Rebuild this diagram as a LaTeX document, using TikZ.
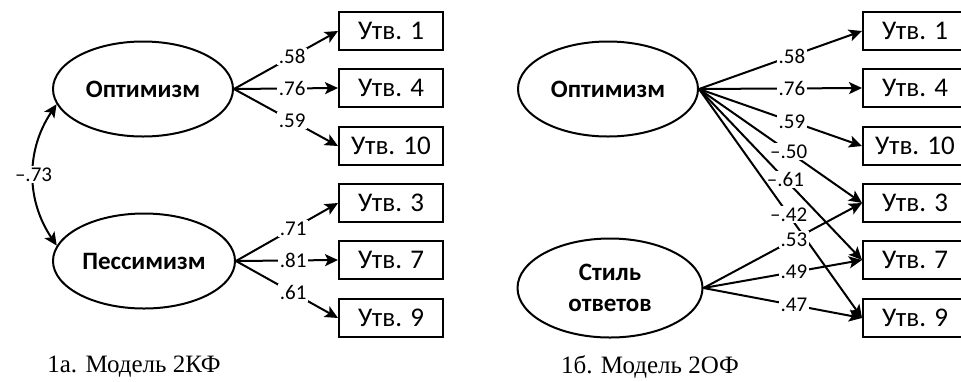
\documentclass[tikz,border=0pt]{standalone}
\usepackage{fontspec}
\setmainfont{Carlito}
\newfontfamily\capfont{Liberation Serif}
\usetikzlibrary{arrows.meta, shapes.geometric}

\begin{document}
\begin{tikzpicture}[x=0.5pt, y=-0.5pt, line width=1pt,
		factor/.style={ellipse, draw, minimum width=90pt, minimum height=47.5pt, inner sep=0pt,
			align=center, font=\bfseries\fontsize{12.5}{15.5}\selectfont},
		item/.style={rectangle, draw, minimum width=52pt, minimum height=19pt, inner sep=0pt,
			font=\fontsize{13.5}{15}\selectfont},
		load/.style={-{Stealth[length=6.5pt, width=6pt, inset=1.5pt]}},
		coef/.style={fill=white, inner sep=0.8pt, font=\fontsize{10.5}{12}\selectfont}]
		\useasboundingbox (0,0) rectangle (961,381);
		\clip (0,0) rectangle (961,381);
		
		% 1a
		\node[factor] (opt) at (143, 89) {Оптимизм};
		\node[factor, minimum width=91pt] (pes) at (144, 261) {Пессимизм};
		\node[item] (a1) at (391, 31) {Утв. 1};
		\node[item] (a4) at (391, 88) {Утв. 4};
		\node[item] (a10) at (391, 146) {Утв. 10};
		\node[item] (a3) at (391, 203) {Утв. 3};
		\node[item] (a7) at (391, 260) {Утв. 7};
		\node[item] (a9) at (391, 318) {Утв. 9};
		\node[font=\capfont\fontsize{12.5}{15}\selectfont] (capa) at (134, 367) {1а. Модель 2КФ};
		
		\draw[load] (opt.east) -- node[coef, pos=0.56] {.58} (a1.west);
		\draw[load] (opt.east) -- node[coef, pos=0.56] {.76} (a4.west);
		\draw[load] (opt.east) -- node[coef, pos=0.56] {.59} (a10.west);
		\draw[load] (pes.east) -- node[coef, pos=0.56] {.71} (a3.west);
		\draw[load] (pes.east) -- node[coef, pos=0.56] {.81} (a7.west);
		\draw[load] (pes.east) -- node[coef, pos=0.56] {.61} (a9.west);
		\draw[{Stealth[length=6.5pt, width=6pt, inset=1.5pt]}-{Stealth[length=6.5pt, width=6pt, inset=1.5pt]}]
		(opt.190) to[bend right=34] node[coef] {–.73} (pes.170);
		
		% 1b
		\node[factor] (opt2) at (608, 89) {Оптимизм};
		\node[factor, minimum width=92.5pt, minimum height=49.5pt] (sty) at (610, 288) {Стиль\\ответов};
		\node[item] (b1) at (915, 31) {Утв. 1};
		\node[item] (b4) at (915, 88) {Утв. 4};
		\node[item] (b10) at (915, 146) {Утв. 10};
		\node[item] (b3) at (915, 203) {Утв. 3};
		\node[item] (b7) at (915, 260) {Утв. 7};
		\node[item] (b9) at (915, 318) {Утв. 9};
		\node[font=\capfont\fontsize{12.5}{15}\selectfont] (capb) at (650, 367) {1б. Модель 2ОФ};
		
		\draw[load] (opt2.east) -- node[coef, pos=0.57] {.58} (b1.west);
		\draw[load] (opt2.east) -- node[coef, pos=0.57] {.76} (b4.west);
		\draw[load] (opt2.east) -- node[coef, pos=0.57] {.59} (b10.west);
		\draw[load] (opt2.east) -- node[coef, pos=0.55] {–.50} (b3.west);
		\draw[load] (opt2.east) -- node[coef, pos=0.53] {–.61} (b7.west);
		\draw[load] (opt2.east) -- node[coef, pos=0.55] {–.42} (b9.west);
		\draw[load] (sty.east) -- node[coef, pos=0.57] {.53} (b3.west);
		\draw[load] (sty.east) -- node[coef, pos=0.57] {.49} (b7.west);
		\draw[load] (sty.east) -- node[coef, pos=0.57] {.47} (b9.west);
	\end{tikzpicture}
\end{document}
